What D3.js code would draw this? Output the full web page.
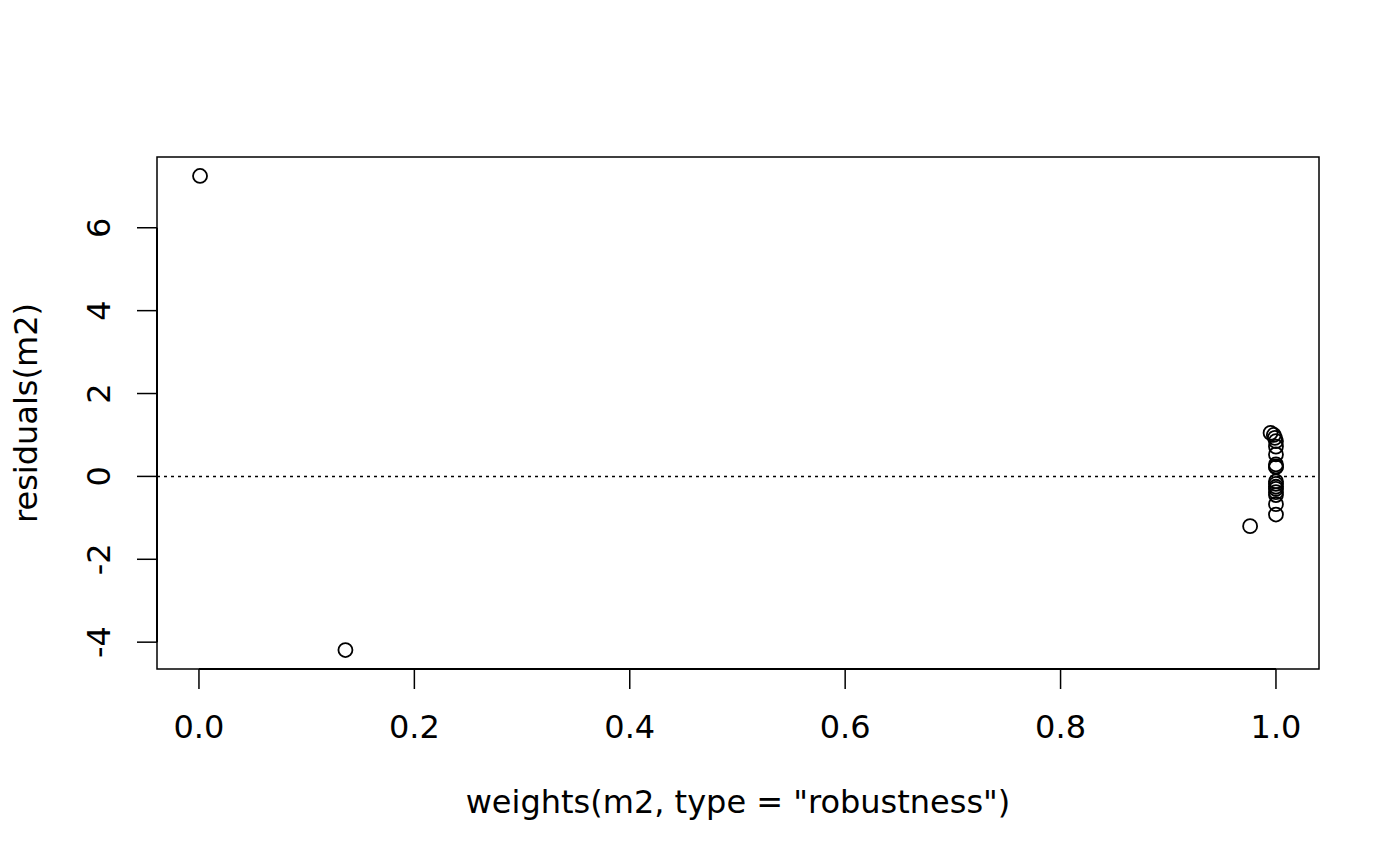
<!DOCTYPE html>
<html><head><meta charset="utf-8">
<script src="https://cdn.jsdelivr.net/npm/d3@7"></script>
<style>body{margin:0;background:#fff}svg{display:block}text{font-family:"DejaVu Sans",sans-serif;fill:#000}</style>
</head><body>
<script>
const weights = [0.001, 0.136, 0.976, 0.995, 0.998, 0.999, 1, 1, 1, 1, 1, 1, 1, 1, 1, 1, 1, 1, 1, 1];
const residuals = [7.25, -4.19, -1.2, 1.05, 1.0, 0.93, 0.85, 0.72, 0.53, 0.29, 0.24, 0.22, -0.12, -0.18, -0.25, -0.3, -0.38, -0.45, -0.67, -0.92];
const xTicks = [0, 0.2, 0.4, 0.6, 0.8, 1.0];
const yTicks = [-4, -2, 0, 2, 4, 6];
const xLabel = 'weights(m2, type = "robustness")';
const yLabel = 'residuals(m2)';

const W = 1400, H = 866;
const L = 157, R = 1319, T = 157, B = 669;
const FS = 32;
const svg = d3.select("body").append("svg").attr("width", W).attr("height", H);

const xr = d3.extent(weights), yr = d3.extent(residuals);
const xp = (xr[1]-xr[0])*0.04, yp = (yr[1]-yr[0])*0.04;
const x = d3.scaleLinear().domain([xr[0]-xp, xr[1]+xp]).range([L, R]);
const y = d3.scaleLinear().domain([yr[0]-yp, yr[1]+yp]).range([B, T]);

svg.append("rect").attr("x", L).attr("y", T).attr("width", R-L).attr("height", B-T)
  .attr("fill", "none").attr("stroke", "#000").attr("stroke-width", 1.5);

// x axis
const xa = svg.append("g");
xa.append("line").attr("x1", x(0)).attr("x2", x(1)).attr("y1", B).attr("y2", B).attr("stroke", "#000").attr("stroke-width", 2);
xTicks.forEach(t => {
  xa.append("line").attr("x1", x(t)).attr("x2", x(t)).attr("y1", B).attr("y2", B+20).attr("stroke", "#000").attr("stroke-width", 1.5);
  xa.append("text").attr("x", x(t)).attr("y", 738).attr("text-anchor", "middle").attr("font-size", FS).text(d3.format(".1f")(t));
});
// y axis
const ya = svg.append("g");
ya.append("line").attr("x1", L).attr("x2", L).attr("y1", y(-4)).attr("y2", y(6)).attr("stroke", "#000").attr("stroke-width", 2);
yTicks.forEach(t => {
  ya.append("line").attr("x1", L-20).attr("x2", L).attr("y1", y(t)).attr("y2", y(t)).attr("stroke", "#000").attr("stroke-width", 1.5);
  ya.append("text").attr("transform", `translate(110,${y(t)}) rotate(-90)`).attr("text-anchor", "middle").attr("font-size", FS).text(t);
});

svg.append("text").attr("x", (L+R)/2).attr("y", 813).attr("text-anchor", "middle").attr("font-size", FS).text(xLabel);
svg.append("text").attr("transform", `translate(37,${(T+B)/2}) rotate(-90)`).attr("text-anchor", "middle").attr("font-size", FS).text(yLabel);

svg.append("line").attr("x1", L).attr("x2", R).attr("y1", y(0)).attr("y2", y(0))
  .attr("stroke", "#000").attr("stroke-width", 1.5).attr("stroke-dasharray", "3,4");

svg.append("g").selectAll("circle").data(weights.map((w,i)=>[w,residuals[i]])).join("circle")
  .attr("cx", d => x(d[0])).attr("cy", d => y(d[1])).attr("r", 7)
  .attr("fill", "none").attr("stroke", "#000").attr("stroke-width", 1.8);
</script>
</body></html>
